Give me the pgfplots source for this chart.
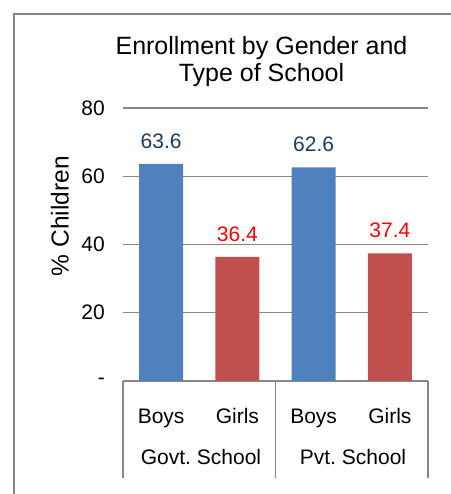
\documentclass[border=0pt]{standalone}
\usepackage{pgfplots}
\pgfplotsset{compat=1.18}
\usepackage{fontspec}
\setmainfont{Liberation Sans}
\frenchspacing
\definecolor{barblue}{HTML}{4F81BD}
\definecolor{barred}{HTML}{C0504D}
\definecolor{gridgray}{HTML}{878787}
\definecolor{navy}{HTML}{1F3B60}
\begin{document}
\begin{tikzpicture}[x=1pt,y=1pt,font=\fontsize{21}{25}\selectfont]
\useasboundingbox (0,0) rectangle (450,494);
\draw[gridgray, line width=1.3pt] (14,-10) -- (14,480) -- (460,480);
\begin{axis}[
  at={(123pt,113pt)}, anchor=south west,
  scale only axis, width=305pt, height=273pt,
  xmin=-0.5, xmax=3.5, ymin=0, ymax=80,
  axis line style={draw=none},
  major tick length=0pt,
  /pgf/number format/assume math mode=true,
  ytick={0,20,40,60,80}, yticklabels={-,20,40,60,80},
  yticklabel style={anchor=east, inner sep=0pt, xshift=-18pt},
  ymajorgrids, grid style={gridgray, line width=1.3pt},
  xtick={0,1,2,3}, xticklabels={Boys,Girls,Boys,Girls},
  xticklabel style={anchor=base, inner sep=0pt, yshift=-42pt},
  ylabel={\% Children},
  ylabel style={at={(axis description cs:-0.2066,0.604)}, anchor=center, font=\fontsize{24.5}{29}\selectfont},
  ybar, bar width=44pt, bar shift=0pt,
  nodes near coords={\pgfmathprintnumber[fixed,fixed zerofill,precision=1]{\pgfplotspointmeta}},
  every node near coord/.append style={inner sep=0pt, yshift=15pt},
  clip=false,
]
\addplot[fill=barblue, draw=none, every node near coord/.append style={text=navy}]
  coordinates {(0,63.6) (2,62.6)};
\addplot[fill=barred, draw=none, every node near coord/.append style={text=red}]
  coordinates {(1,36.4) (3,37.4)};
\draw[gridgray, line width=1.3pt] (axis cs:-0.5,0) -- ++(0pt,-97pt);
\draw[gridgray, line width=1.3pt] (axis cs:1.5,0) -- ++(0pt,-97pt);
\draw[gridgray, line width=1.3pt] (axis cs:3.5,0) -- ++(0pt,-97pt);
\end{axis}
\node[anchor=base] at (201,29) {Govt. School};
\node[anchor=base] at (353,29) {Pvt. School};
\node[anchor=base, font=\fontsize{25}{30}\selectfont] at (261.5,439) {Enrollment by Gender and};
\node[anchor=base, font=\fontsize{25}{30}\selectfont] at (261.5,412) {Type of School};
\end{tikzpicture}
\end{document}
